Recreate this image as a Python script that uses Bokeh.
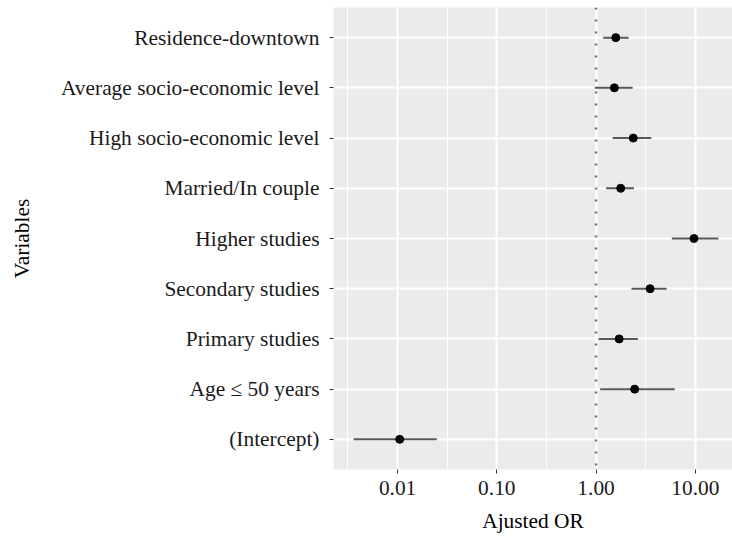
from bokeh.plotting import figure
from bokeh.models import Range1d, FixedTicker, Span, ColumnDataSource
from bokeh.embed import file_html
from bokeh.resources import INLINE

# Variables, top to bottom
variables = [
    "Residence-downtown",
    "Average socio-economic level",
    "High socio-economic level",
    "Married/In couple",
    "Higher studies",
    "Secondary studies",
    "Primary studies",
    "Age \u2264 50 years",
    "(Intercept)",
]
odds_ratio = [1.58, 1.53, 2.37, 1.77, 9.7, 3.5, 1.71, 2.45, 0.0105]
ci_low = [1.18, 0.97, 1.47, 1.26, 5.8, 2.27, 1.06, 1.10, 0.0036]
ci_high = [2.13, 2.34, 3.60, 2.41, 17.1, 5.13, 2.64, 6.2, 0.0248]

x_ticks = [0.01, 0.1, 1.0, 10.0]
x_tick_labels = ["0.01", "0.10", "1.00", "10.00"]
x_minor = [0.00316, 0.0316, 0.316, 3.16, 31.6]

n = len(variables)
pos = [n - i for i in range(n)]  # top row highest

src = ColumnDataSource(dict(var=variables, orr=odds_ratio, lo=ci_low, hi=ci_high, pos=pos))

FONT = "Liberation Serif"

p = figure(width=732, height=537, x_axis_type="log",
           x_range=Range1d(0.00226, 23.7), y_range=Range1d(0.4, n + 0.6),
           output_backend="svg", toolbar_location=None,
           min_border_left=333, min_border_right=0, min_border_top=7, min_border_bottom=68)

p.background_fill_color = "#EBEBEB"
p.border_fill_color = "white"
p.outline_line_color = None

# x axis
p.xaxis.ticker = FixedTicker(ticks=x_ticks, minor_ticks=x_minor)
p.xaxis.major_label_overrides = {t: l for t, l in zip(x_ticks, x_tick_labels)}
p.xgrid.ticker = p.xaxis.ticker
p.xgrid.grid_line_color = "white"
p.xgrid.grid_line_width = 2
p.xgrid.minor_grid_line_color = "white"
p.xgrid.minor_grid_line_width = 1

# y axis
p.yaxis.ticker = FixedTicker(ticks=pos)
p.yaxis.major_label_overrides = {pv: v for pv, v in zip(pos, variables)}
p.ygrid.ticker = p.yaxis.ticker
p.ygrid.grid_line_color = "white"
p.ygrid.grid_line_width = 2

for ax in (p.xaxis, p.yaxis):
    ax.axis_line_color = None
    ax.major_tick_in = 0
    ax.major_tick_out = 4
    ax.major_tick_line_color = "#333333"
    ax.major_tick_line_width = 1
    ax.minor_tick_line_color = None
    ax.major_label_text_font = FONT
    ax.major_label_text_font_size = "21.4px"
    ax.major_label_text_color = "#1a1a1a"
    ax.axis_label_text_font = FONT
    ax.axis_label_text_font_size = "21.4px"
    ax.axis_label_text_font_style = "normal"
    ax.axis_label_text_color = "#000000"

p.xaxis.axis_label = "Ajusted OR"
p.yaxis.axis_label = "Variables"
p.xaxis.major_label_standoff = 7
p.xaxis.axis_label_standoff = 11
p.yaxis.major_label_standoff = 10
p.yaxis.axis_label_standoff = 24

vline = Span(location=1.0, dimension="height", line_color="#777777",
             line_width=2.5, line_dash="2 10")
p.add_layout(vline)

p.segment(x0="lo", x1="hi", y0="pos", y1="pos", source=src,
          line_color="#595959", line_width=2)
p.scatter(x="orr", y="pos", source=src, size=8, color="black")

open("out.html", "w").write(file_html(p, INLINE))
